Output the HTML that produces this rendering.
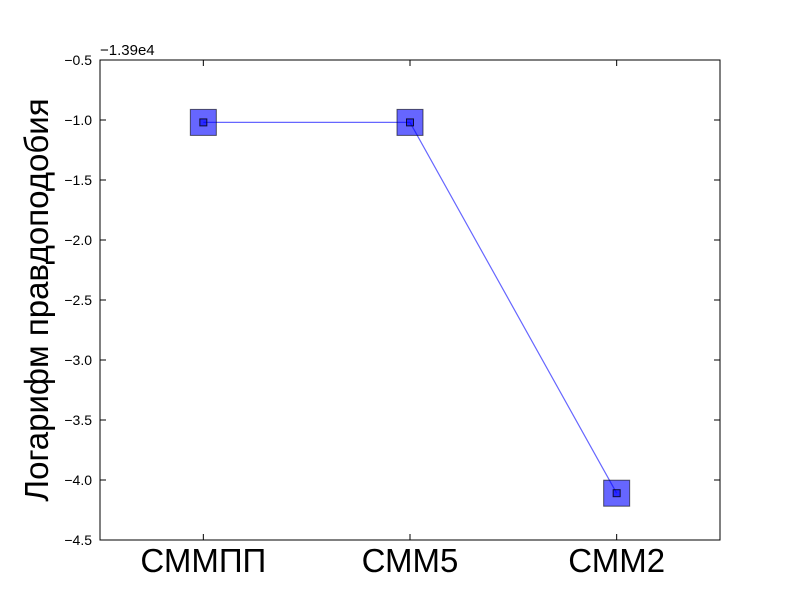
<!DOCTYPE html>
<html><head><meta charset="utf-8"><style>body{margin:0;background:#fff}svg text{font-family:"Liberation Sans",sans-serif}</style></head>
<body>
<svg id="chart" width="800" height="600">
<rect x="0" y="0" width="800" height="600" fill="#fff"/>
<g id="grid"></g>
<g id="marks"></g>
<rect x="100" y="60" width="620" height="480" fill="none" stroke="#000" stroke-width="1"/>
<text x="100" y="55" font-size="15">−1.39e4</text>
<text transform="translate(48,300) rotate(-90)" text-anchor="middle" font-size="33">Логарифм правдоподобия</text>
</svg>
<script>
const categories = ["СММПП", "СММ5", "СММ2"];
const values = [-1.02, -1.02, -4.11];
const yTicks = [-0.5, -1.0, -1.5, -2.0, -2.5, -3.0, -3.5, -4.0, -4.5];
const ns = "http://www.w3.org/2000/svg";
const X0 = 100, X1 = 720, Y0 = 60, Y1 = 540;
const xScale = i => X0 + (i + 0.5) / categories.length * (X1 - X0);
const yScale = v => Y0 + (-0.5 - v) / 4.0 * (Y1 - Y0);
function mk(tag, attrs, parent) { const e = document.createElementNS(ns, tag); for (const k in attrs) e.setAttribute(k, attrs[k]); parent.appendChild(e); return e; }
const g = document.getElementById('grid'), m = document.getElementById('marks');
yTicks.forEach(t => {
  const y = yScale(t);
  const l1 = mk('line', {x1: X0, x2: X0 + 6, y1: y, y2: y, stroke: '#000'}, g);
  
  
  mk('line', {x1: X1 - 6, x2: X1, y1: y, y2: y, stroke: '#000'}, g);
  const tx = mk('text', {x: X0 - 8, y: y + 5, 'text-anchor': 'end', 'font-size': 14}, g);
  tx.textContent = t.toFixed(1).replace('-', '−');
  
  
});
categories.forEach((c, i) => {
  const x = xScale(i);
  mk('line', {x1: x, x2: x, y1: Y1, y2: Y1 - 6, stroke: '#000'}, g);
  mk('line', {x1: x, x2: x, y1: Y0, y2: Y0 + 6, stroke: '#000'}, g);
  const tx = mk('text', {x: x, y: Y1 + 32, 'text-anchor': 'middle', 'font-size': 33}, g);
  tx.textContent = c;
  
  
});
const pts = values.map((v, i) => xScale(i) + ',' + yScale(v)).join(' ');
const pl = mk('polyline', {points: pts, fill: 'none', stroke: '#0000ff', 'stroke-opacity': 0.6, 'stroke-width': 1.2}, m);


values.forEach((v, i) => {
  const x = xScale(i), y = yScale(v);
  const r = mk('rect', {x: x - 13, y: y - 13, width: 26, height: 26, fill: '#0000ff', 'fill-opacity': 0.6, stroke: '#000', 'stroke-opacity': 0.6}, m);
  
  
  mk('rect', {x: x - 3.5, y: y - 3.5, width: 7, height: 7, fill: '#0000ff', 'fill-opacity': 0.6, stroke: '#000', 'stroke-opacity': 0.8}, m);
});
</script>
</body></html>
